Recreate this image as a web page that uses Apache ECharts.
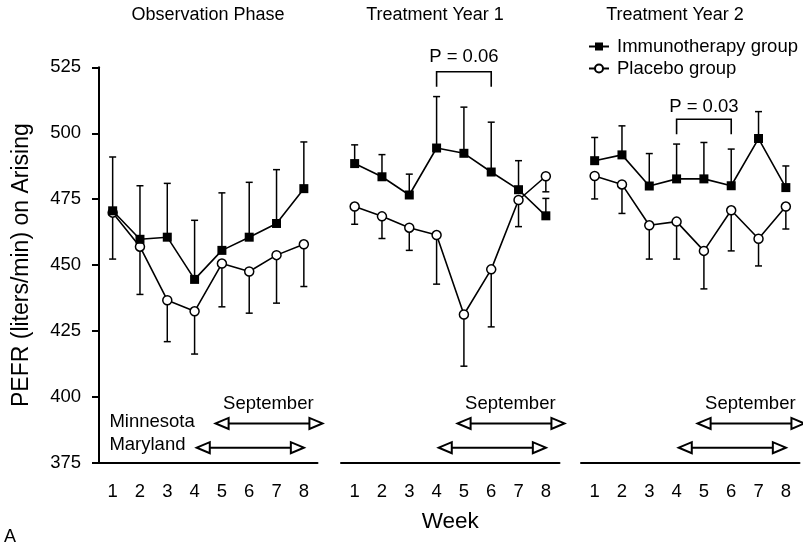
<!DOCTYPE html>
<html><head><meta charset="utf-8">
<script src="https://cdn.jsdelivr.net/npm/echarts@6/dist/echarts.min.js"></script>
<style>html,body{margin:0;padding:0;background:#fff}#c{width:803px;height:546px}</style>
</head><body><div id="c"></div>
<script>
// ---- data ----
const weeks = [1, 2, 3, 4, 5, 6, 7, 8];
const weekLabels = ['1', '2', '3', '4', '5', '6', '7', '8'];
const panelTitles = ['Observation Phase', 'Treatment Year 1', 'Treatment Year 2'];
const yMin = 375, yMax = 525, yStep = 25;

const immObs    = [470.6, 459.8, 460.6, 444.6, 455.6, 460.6, 465.8, 479.0];
const immObsTop = [491.0, 480.1, 481.0, 467.0, 477.4, 481.4, 486.2, 496.7];
const plcObs    = [469.9, 457.0, 436.7, 432.5, 450.6, 447.6, 453.8, 457.9];
const plcObsLow = [452.3, 438.9, 421.0, 416.3, 434.2, 431.8, 435.6, 441.9];

const immY1    = [488.5, 483.5, 476.6, 494.4, 492.4, 485.3, 478.6, 468.7];
const immY1Top = [495.6, 491.9, 484.5, 513.9, 509.9, 504.2, 489.6, 475.3];
const plcY1    = [472.2, 468.5, 464.2, 461.4, 431.3, 448.4, 474.7, 483.7];
const plcY1Low = [465.5, 460.1, 455.6, 442.8, 411.7, 426.6, 464.6, 477.8];

const immY2    = [489.6, 491.8, 480.0, 482.7, 482.7, 480.1, 498.0, 479.4];
const immY2Top = [498.4, 502.8, 492.3, 495.9, 496.5, 494.0, 508.2, 487.6];
const plcY2    = [483.8, 480.6, 465.1, 466.5, 455.4, 470.8, 460.0, 472.2];
const plcY2Low = [475.1, 469.6, 452.3, 452.3, 441.0, 455.4, 449.7, 463.7];

// arrows: [startWeek, endWeek, level]
const septArrow = [4.77, 8.68, 390.0];
const marylandArrow = [4.08, 8.0, 380.8];
const septLabel = [6.7, 397.4, 'September'];
const stateLabels = [[0.88, 390.4, 'Minnesota'], [0.88, 381.8, 'Maryland']];
// significance brackets: [panel, fromWeek, toWeek, top, legBottom, textLevel, text]
const brackets = [
  [1, 4, 6, 523.3, 517.6, 528.9, 'P = 0.06'],
  [2, 4, 6, 505.3, 499.6, 509.8, 'P = 0.03']
];

const panels = [
  {imm: immObs, immTop: immObsTop, plc: plcObs, plcLow: plcObsLow},
  {imm: immY1, immTop: immY1Top, plc: plcY1, plcLow: plcY1Low},
  {imm: immY2, immTop: immY2Top, plc: plcY2, plcLow: plcY2Low}
];

// ---- layout ----
const FONT = 'Liberation Sans, Arial, Helvetica, sans-serif';
const gridLefts = [99, 341, 581];
const gridWidth = 218.5;
const gridTop = 67.3, gridBottom = 83;
const titleX = [208, 435, 675];
const FS = 18.5;

function txt(x, y, text, size, align, vAlign) {
  return {type: 'text', x: x, y: y,
    style: {text: text, font: size + 'px ' + FONT, fill: '#000',
      align: align, verticalAlign: vAlign, textAlign: align, textVerticalAlign: vAlign}};
}

function errRender(params, api) {
  const p0 = api.coord([api.value(0), api.value(1)]);
  const p1 = api.coord([api.value(0), api.value(2)]);
  return {type: 'group', children: [
    {type: 'line', shape: {x1: p0[0], y1: p0[1], x2: p1[0], y2: p1[1]}, style: {stroke: '#000', lineWidth: 1.5}},
    {type: 'line', shape: {x1: p1[0] - 3.5, y1: p1[1], x2: p1[0] + 3.5, y2: p1[1]}, style: {stroke: '#000', lineWidth: 1.5}}
  ]};
}

function arrowRender(params, api) {
  const a = api.coord([api.value(0), api.value(2)]);
  const b = api.coord([api.value(1), api.value(2)]);
  const L = 13, H = 5.5;
  return {type: 'group', children: [
    {type: 'line', shape: {x1: a[0] + L, y1: a[1], x2: b[0] - L, y2: b[1]}, style: {stroke: '#000', lineWidth: 2}},
    {type: 'polygon', shape: {points: [[a[0], a[1]], [a[0] + L, a[1] - H], [a[0] + L, a[1] + H]]}, style: {fill: '#fff', stroke: '#000', lineWidth: 2}},
    {type: 'polygon', shape: {points: [[b[0], b[1]], [b[0] - L, b[1] - H], [b[0] - L, b[1] + H]]}, style: {fill: '#fff', stroke: '#000', lineWidth: 2}}
  ]};
}

function labelRender(align) {
  return function (params, api) {
    const p = api.coord([api.value(0), api.value(1)]);
    return txt(p[0], p[1], api.value(2), FS, align, 'middle');
  };
}

function bracketRender(params, api) {
  const l = api.coord([api.value(1), api.value(3)]);
  const r = api.coord([api.value(2), api.value(3)]);
  const bl = api.coord([api.value(1), api.value(4)]);
  const t = api.coord([(api.value(1) + api.value(2)) / 2, api.value(5)]);
  return {type: 'group', children: [
    {type: 'polyline', shape: {points: [[bl[0], bl[1]], [l[0], l[1]], [r[0], r[1]], [r[0], bl[1]]]}, style: {stroke: '#000', lineWidth: 1.6, fill: null}},
    txt(t[0], t[1], api.value(6), FS, 'center', 'middle')
  ]};
}

const grid = [], xAxis = [], yAxis = [], series = [];
panels.forEach((pn, p) => {
  grid.push({left: gridLefts[p], width: gridWidth, top: gridTop, bottom: gridBottom});
  xAxis.push({
    type: 'category', gridIndex: p, data: weekLabels, boundaryGap: true,
    axisLine: {lineStyle: {color: '#000', width: 2}},
    axisTick: {alignWithLabel: true, length: 7, lineStyle: {color: '#000', width: 2}},
    axisLabel: {color: '#000', fontSize: FS, fontFamily: FONT, margin: 19},
    splitLine: {show: false},
    name: p === 1 ? 'Week' : '', nameLocation: 'middle', nameGap: 47,
    nameTextStyle: {color: '#000', fontSize: 22.5, fontFamily: FONT}
  });
  xAxis.push({type: 'value', gridIndex: p, min: 0.5, max: 8.5, show: false});
  yAxis.push({
    type: 'value', gridIndex: p, min: yMin, max: yMax, interval: yStep, show: p === 0,
    axisLine: {show: true, lineStyle: {color: '#000', width: 2}},
    axisTick: {show: true, length: 7, lineStyle: {color: '#000', width: 2}},
    axisLabel: {color: '#000', fontSize: FS, fontFamily: FONT, margin: 18},
    splitLine: {show: false},
    name: p === 0 ? 'PEFR (liters/min) on Arising' : '', nameLocation: 'middle', nameGap: 66,
    nameTextStyle: {color: '#000', fontSize: 23, fontFamily: FONT}
  });
  const xi = 2 * p + 1;
  series.push({type: 'custom', xAxisIndex: xi, yAxisIndex: p, z: 1, clip: false, silent: true,
    renderItem: errRender, data: weeks.map((w, i) => [w, pn.imm[i], pn.immTop[i]])});
  series.push({type: 'custom', xAxisIndex: xi, yAxisIndex: p, z: 1, clip: false, silent: true,
    renderItem: errRender, data: weeks.map((w, i) => [w, pn.plc[i], pn.plcLow[i]])});
  series.push({type: 'line', name: 'Placebo group', xAxisIndex: xi, yAxisIndex: p, z: 3,
    data: weeks.map((w, i) => [w, pn.plc[i]]), symbol: 'circle', symbolSize: 9, showAllSymbol: true,
    itemStyle: {color: '#fff', borderColor: '#000', borderWidth: 1.5},
    lineStyle: {color: '#000', width: 1.6}, emphasis: {disabled: true}});
  series.push({type: 'line', name: 'Immunotherapy group', xAxisIndex: xi, yAxisIndex: p, z: 4,
    data: weeks.map((w, i) => [w, pn.imm[i]]), symbol: 'rect', symbolSize: 9, showAllSymbol: true,
    itemStyle: {color: '#000'}, lineStyle: {color: '#000', width: 1.6}, emphasis: {disabled: true}});
  series.push({type: 'custom', xAxisIndex: xi, yAxisIndex: p, z: 2, clip: false, silent: true,
    renderItem: arrowRender, data: [septArrow, marylandArrow]});
  series.push({type: 'custom', xAxisIndex: xi, yAxisIndex: p, z: 2, clip: false, silent: true,
    renderItem: labelRender('center'), data: [septLabel]});
  if (p === 0) {
    series.push({type: 'custom', xAxisIndex: xi, yAxisIndex: p, z: 2, clip: false, silent: true,
      renderItem: labelRender('left'), data: stateLabels});
  }
  const br = brackets.filter(b => b[0] === p);
  if (br.length) {
    series.push({type: 'custom', xAxisIndex: xi, yAxisIndex: p, z: 2, clip: false, silent: true,
      renderItem: bracketRender, data: br});
  }
});

const graphic = panelTitles.map((t, i) => txt(titleX[i], 15, t, 18, 'center', 'middle'));
graphic.push(txt(4, 537, 'A', 18, 'left', 'middle'));

const chart = echarts.init(document.getElementById('c'), null, {renderer: 'canvas'});
chart.setOption({
  animation: false,
  backgroundColor: '#fff',
  textStyle: {fontFamily: FONT},
  grid: grid, xAxis: xAxis, yAxis: yAxis, series: series, graphic: graphic,
  legend: {
    orient: 'vertical', left: 583, top: 32, itemWidth: 20, itemHeight: 10, itemGap: 3,
    data: ['Immunotherapy group', 'Placebo group'],
    textStyle: {color: '#000', fontSize: FS, fontFamily: FONT, padding: [0, 0, 0, 3]},
    selectedMode: false
  }
});
</script>
</body></html>
